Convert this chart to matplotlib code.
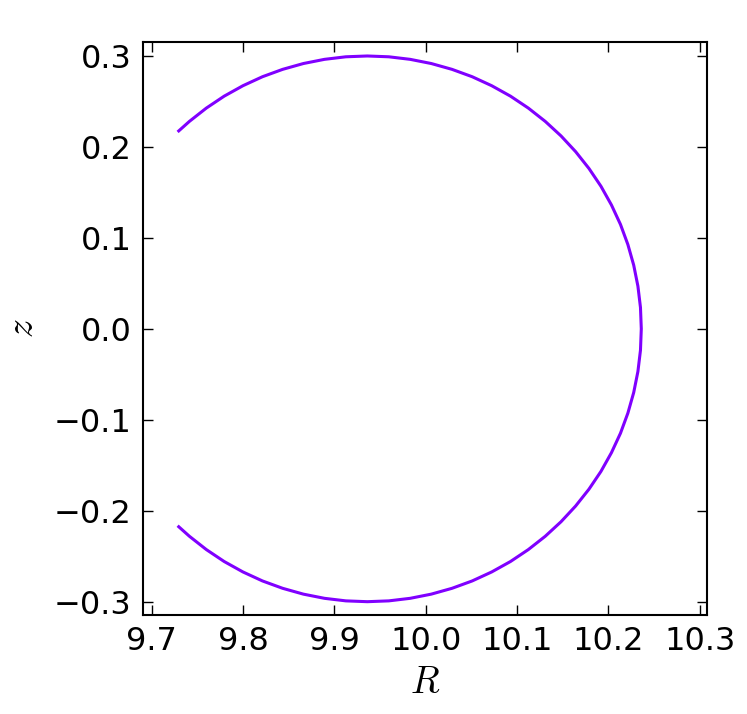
import numpy as np
import matplotlib
matplotlib.use("Agg")
import matplotlib.pyplot as plt

# puntos (R, z) a lo largo de la superficie
R = [9.7295, 9.7412, 9.7597, 9.7792, 9.7998, 9.8212, 9.8433, 9.8660, 9.8891,
     9.9125, 9.9360, 9.9595, 9.9829, 10.0060, 10.0287, 10.0508, 10.0722,
     10.0928, 10.1123, 10.1308, 10.1481, 10.1641, 10.1787, 10.1918, 10.2033,
     10.2132, 10.2213, 10.2277, 10.2323, 10.2351, 10.2360,
     10.2351, 10.2323, 10.2277, 10.2213, 10.2132, 10.2033, 10.1918, 10.1787,
     10.1641, 10.1481, 10.1308, 10.1123, 10.0928, 10.0722, 10.0508, 10.0287,
     10.0060, 9.9829, 9.9595, 9.9360, 9.9125, 9.8891, 9.8660, 9.8433,
     9.8212, 9.7998, 9.7792, 9.7597, 9.7412, 9.7295]
z = [-0.2176, -0.2281, -0.2427, -0.2558, -0.2673, -0.2772, -0.2853, -0.2917,
     -0.2963, -0.2991, -0.3000, -0.2991, -0.2963, -0.2917, -0.2853, -0.2772,
     -0.2673, -0.2558, -0.2427, -0.2281, -0.2121, -0.1948, -0.1763, -0.1568,
     -0.1362, -0.1148, -0.0927, -0.0700, -0.0469, -0.0235, 0.0,
     0.0235, 0.0469, 0.0700, 0.0927, 0.1148, 0.1362, 0.1568, 0.1763,
     0.1948, 0.2121, 0.2281, 0.2427, 0.2558, 0.2673, 0.2772, 0.2853,
     0.2917, 0.2963, 0.2991, 0.3000, 0.2991, 0.2963, 0.2917, 0.2853,
     0.2772, 0.2673, 0.2558, 0.2427, 0.2281, 0.2176]

xticks = [9.7, 9.8, 9.9, 10.0, 10.1, 10.2, 10.3]
yticks = [-0.3, -0.2, -0.1, 0.0, 0.1, 0.2, 0.3]

plt.rcParams['mathtext.fontset'] = 'cm'
plt.rcParams['font.family'] = 'DejaVu Sans'

fig = plt.figure(figsize=(7.47, 7.14), dpi=100)
ax = fig.add_axes([0.191, 0.1387, 0.756, 0.8029])

ax.plot(R, z, color='#8000ff', linewidth=2.2)

ax.set_xlim(9.690, 10.3084)
ax.set_ylim(-0.3146, 0.3157)
ax.set_xticks(xticks)
ax.set_yticks(yticks)
ax.set_xticklabels([('%.1f' % t).replace('-', '\u2212') for t in xticks])
ax.set_yticklabels([('%.1f' % t).replace('-', '\u2212') if t != 0 else '0.0'
                    for t in yticks])

ax.tick_params(direction='in', top=True, right=True, length=7.5, width=1.0,
               labelsize=23, pad=8)
for s in ax.spines.values():
    s.set_linewidth(1.5)

ax.set_xlabel('$R$', fontsize=27, labelpad=6)
ax.set_ylabel('$z$', fontsize=27, labelpad=9)

fig.savefig('out.png', dpi=100, facecolor='white')
